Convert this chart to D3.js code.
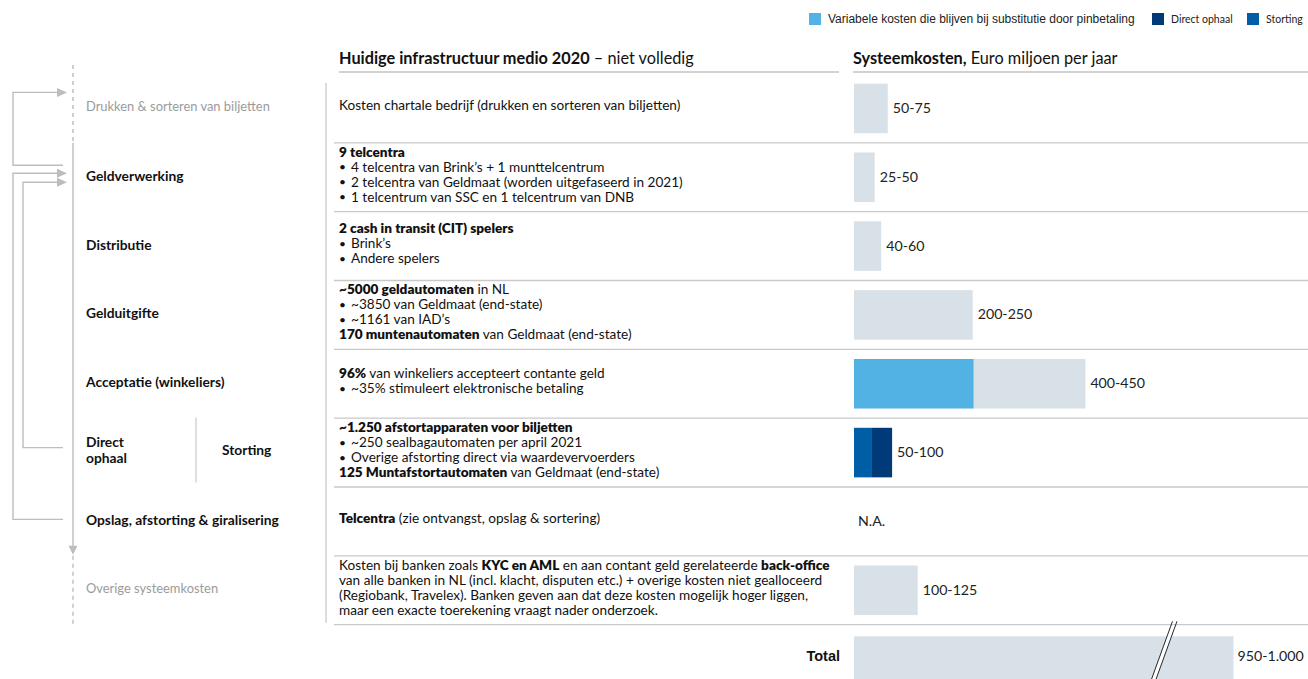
<!DOCTYPE html>
<html><head><meta charset="utf-8">
<script src="https://cdn.jsdelivr.net/npm/d3@7"></script>
<style>body{margin:0;background:#fff}svg{display:block}</style>
</head><body><svg id="c" width="1308" height="679"></svg>
<script>
// ---------- data ----------
const stageLabels = ["Drukken & sorteren van biljetten","Geldverwerking","Distributie","Gelduitgifte","Acceptatie (winkeliers)","Direct ophaal","Opslag, afstorting & giralisering","Overige systeemkosten"];
const stageMuted  = [true,false,false,false,false,false,false,true];
const infraLines = [
  ["Kosten chartale bedrijf (drukken en sorteren van biljetten)"],
  ["**9 telcentra**","• 4 telcentra van Brink’s + 1 munttelcentrum","• 2 telcentra van Geldmaat (worden uitgefaseerd in 2021)","• 1 telcentrum van SSC en 1 telcentrum van DNB"],
  ["**2 cash in transit (CIT) spelers**","• Brink’s","• Andere spelers"],
  ["**~5000 geldautomaten** in NL","• ~3850 van Geldmaat (end-state)","• ~1161 van IAD’s","**170 muntenautomaten** van Geldmaat (end-state)"],
  ["**96%** van winkeliers accepteert contante geld","• ~35% stimuleert elektronische betaling"],
  ["**~1.250 afstortapparaten voor biljetten**","• ~250 sealbagautomaten per april 2021","• Overige afstorting direct via waardevervoerders","**125 Muntafstortautomaten** van Geldmaat (end-state)"],
  ["**Telcentra** (zie ontvangst, opslag & sortering)"],
  ["Kosten bij banken zoals **KYC en AML** en aan contant geld gerelateerde **back-office**","van alle banken in NL (incl. klacht, disputen etc.) + overige kosten niet gealloceerd","(Regiobank, Travelex). Banken geven aan dat deze kosten mogelijk hoger liggen,","maar een exacte toerekening vraagt nader onderzoek."]
];
const rangeLabels   = ["50-75","25-50","40-60","200-250","400-450","50-100","N.A.","100-125"];
// Euro miljoen per jaar, as drawn (bar lengths)
const variabelValues = [0,0,0,0,220,0,0,0];
const stortingValues = [0,0,0,0,0,33,0,0];
const directValues   = [0,0,0,0,0,37,0,0];
const overigValues   = [62,38,50,218,205,0,0,117];
const totalLabel = "950-1.000";
const totalShown = 697;   // drawn length of the broken total bar
const legendItems = ["Variabele kosten die blijven bij substitutie door pinbetaling","Direct ophaal","Storting"];
const headerMid = ["Huidige infrastructuur medio 2020"," – niet volledig"];
const headerRight = ["Systeemkosten,"," Euro miljoen per jaar"];

// ---------- setup ----------
const FUT = "Lato, 'Open Sans', sans-serif";
const ARI = "'Liberation Sans', Arial, sans-serif";
const C = {grey:"#d8e1e7", light:"#52b2e3", storting:"#005ea6", direct:"#003a79", line:"#c9c9c9", hdr:"#a6a6a6", arrow:"#bdbdbd", muted:"#9b9b9b", text:"#111"};
const svg = d3.select("#c");

const nRows = stageLabels.length;
const y = d3.scaleBand().domain(d3.range(nRows + 1)).range([74, 693.5]);
const bw = y.bandwidth();
const bh = bw * 0.72;
const cy = i => y(i) + bw / 2;
const x = d3.scaleLinear().domain([0, 450]).range([854, 854 + 245]);

// ---------- legend ----------
const legColors = [C.light, C.direct, C.storting];
const legX = [809, 1152, 1247];
legendItems.forEach((t, i) => {
  svg.append("rect").attr("x", legX[i]).attr("y", 13).attr("width", 12).attr("height", 12).attr("fill", legColors[i]);
  svg.append("text").attr("x", legX[i] + 19).attr("y", 19).attr("dominant-baseline", "central")
    .attr("font-family", i === 0 ? ARI : FUT).attr("font-size", i === 0 ? 12 : 10.5).attr("fill", "#222").text(t);
});

// ---------- headers ----------
function hdr(xp, parts) {
  const t = svg.append("text").attr("x", xp).attr("y", 57).attr("dominant-baseline", "central")
    .attr("font-family", FUT).attr("font-size", 16.3).attr("fill", "#111");
  t.append("tspan").attr("font-weight", 700).text(parts[0]);
  t.append("tspan").attr("font-weight", 400).text(parts[1]);
}
hdr(339, headerMid);
hdr(853, headerRight);
svg.append("line").attr("x1", 339).attr("x2", 839).attr("y1", 72).attr("y2", 72).attr("stroke", C.hdr).attr("stroke-width", 1.2);
svg.append("line").attr("x1", 853).attr("x2", 1308).attr("y1", 72).attr("y2", 72).attr("stroke", C.hdr).attr("stroke-width", 1.2);

// ---------- row separators ----------
for (let i = 0; i < nRows; i++) {
  const yy = y(i) + bw;
  svg.append("line").attr("x1", 334).attr("x2", 1308).attr("y1", yy).attr("y2", yy).attr("stroke", C.line).attr("stroke-width", 1.3);
}
svg.append("line").attr("x1", 326).attr("x2", 326).attr("y1", 83).attr("y2", y(nRows - 1) + bw - 2).attr("stroke", C.line).attr("stroke-width", 1.3);

// ---------- left flow ----------
const fx = 73;
const flow = svg.append("g").attr("stroke", C.arrow).attr("stroke-width", 1.4).attr("fill", "none");
flow.append("line").attr("x1", fx).attr("x2", fx).attr("y1", 65).attr("y2", y(1)).attr("stroke-dasharray", "4,4");
flow.append("line").attr("x1", fx).attr("x2", fx).attr("y1", y(1)).attr("y2", y(7) - 8);
flow.append("line").attr("x1", fx).attr("x2", fx).attr("y1", y(7)).attr("y2", y(7) + bw).attr("stroke-dasharray", "4,4");
svg.append("path").attr("d", `M${fx-4.5},${y(7)-10}L${fx+4.5},${y(7)-10}L${fx},${y(7)-1}Z`).attr("fill", C.arrow);

const ln = d3.line();
const loops = [
  {xl: 13, ytop: cy(0) - 16, ybot: cy(1) - 12},
  {xl: 13, ytop: cy(1) - 4,  ybot: cy(6) - 2},
  {xl: 23, ytop: cy(1) + 5,  ybot: cy(5) - 5}
];
loops.forEach(l => {
  flow.append("path").attr("d", ln([[63, l.ybot], [l.xl, l.ybot], [l.xl, l.ytop], [58, l.ytop]]));
  svg.append("path").attr("d", `M57,${l.ytop-4.5}L67,${l.ytop}L57,${l.ytop+4.5}Z`).attr("fill", C.arrow);
});

// ---------- stage labels ----------
stageLabels.forEach((s, i) => {
  const g = svg.append("g").attr("font-family", FUT).attr("fill", stageMuted[i] ? C.muted : C.text)
    .attr("font-weight", stageMuted[i] ? 400 : 700).attr("font-size", stageMuted[i] ? 12.9 : 13.8);
  if (i === 5) {
    const w = s.split(" ");
    g.append("text").attr("x", 86).attr("y", cy(i) - 11).attr("dominant-baseline", "central").text(w[0]);
    g.append("text").attr("x", 86).attr("y", cy(i) + 5).attr("dominant-baseline", "central").text(w[1]);
    g.append("text").attr("x", 222).attr("y", cy(i) - 3).attr("dominant-baseline", "central").text(legendItems[2]);
  } else {
    g.append("text").attr("x", 86).attr("y", cy(i) - 2).attr("dominant-baseline", "central").text(s);
  }
});
svg.append("line").attr("x1", 196).attr("x2", 196).attr("y1", cy(5) - 35).attr("y2", cy(5) + 30).attr("stroke", C.line).attr("stroke-width", 1.2);

// ---------- infrastructure text ----------
const LH = 15, FS = 13.6;
infraLines.forEach((lines, i) => {
  const y0 = cy(i) - 3 - (lines.length - 1) * LH / 2;
  lines.forEach((line, k) => {
    let xx = 339, str = line;
    if (str.startsWith("• ")) {
      svg.append("text").attr("x", 339).attr("y", y0 + k * LH).attr("dominant-baseline", "central")
        .attr("font-family", FUT).attr("font-size", 12).attr("fill", C.text).text("•");
      xx = 351; str = str.slice(2);
    }
    const t = svg.append("text").attr("x", xx).attr("y", y0 + k * LH).attr("dominant-baseline", "central")
      .attr("font-family", FUT).attr("font-size", FS).attr("fill", C.text);
    str.split("**").forEach((seg, j) => {
      if (seg.length) t.append("tspan").attr("font-weight", j % 2 ? 800 : 400).text(seg);
    });
  });
});

// ---------- bars ----------
const keys = ["variabel", "storting", "direct", "overig"];
const rows = d3.range(nRows).map(i => ({i, variabel: variabelValues[i], storting: stortingValues[i], direct: directValues[i], overig: overigValues[i]}));
const stack = d3.stack().keys(keys)(rows);
const kc = {variabel: C.light, storting: C.storting, direct: C.direct, overig: C.grey};
stack.forEach(layer => {
  svg.append("g").attr("fill", kc[layer.key]).selectAll("rect").data(layer.filter(d => d[1] > d[0])).join("rect")
    .attr("x", d => x(d[0])).attr("width", d => x(d[1]) - x(d[0]))
    .attr("y", d => y(d.data.i) + (bw - bh) / 2).attr("height", bh);
});
rows.forEach((r, i) => {
  const tot = r.variabel + r.storting + r.direct + r.overig;
  svg.append("text").attr("x", tot > 0 ? x(tot) + 5 : 858).attr("y", cy(i) - 1).attr("dominant-baseline", "central")
    .attr("font-family", FUT).attr("font-size", 14.2).attr("fill", "#222").text(rangeLabels[i]);
});

// total
const ty = y(nRows) + (bw - bh) / 2 + 2;
svg.append("rect").attr("x", x(0)).attr("y", ty).attr("width", x(totalShown) - x(0)).attr("height", bh).attr("fill", C.grey);
svg.append("text").attr("x", 840).attr("y", cy(nRows) - 3).attr("text-anchor", "end").attr("dominant-baseline", "central")
  .attr("font-family", ARI).attr("font-weight", 700).attr("font-size", 14.5).attr("fill", "#111").text("Total");
svg.append("text").attr("x", x(totalShown) + 4).attr("y", cy(nRows) - 4).attr("dominant-baseline", "central")
  .attr("font-family", FUT).attr("font-size", 14.2).attr("fill", "#222").text(totalLabel);
// axis break
const bx = x(totalShown) - 61, slope = 17 / 47;
const yT = ty - 15, yB = ty + bh;
const p = (xo, yy) => [bx + xo - (yy - yT) * slope, yy];
svg.append("path").attr("d", d3.line()([p(0, ty), p(4.5, ty), p(4.5, yB), p(0, yB)]) + "Z").attr("fill", "#fff");
[0, 4.5].forEach(o => svg.append("path").attr("d", d3.line()([p(o, yT), p(o, yB)])).attr("stroke", "#111").attr("stroke-width", 0.9).attr("fill", "none"));
</script></body></html>
